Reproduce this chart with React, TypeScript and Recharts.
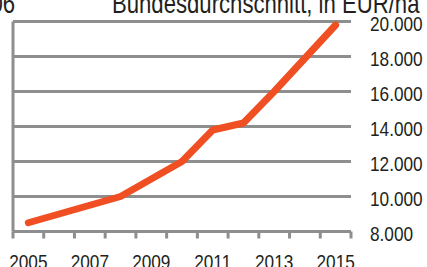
import React from 'react';
import {
  LineChart,
  Line,
  XAxis,
  YAxis,
  CartesianGrid,
  ReferenceLine,
} from 'recharts';

const years = [2005, 2006, 2007, 2008, 2009, 2010, 2011, 2012, 2013, 2014, 2015];
const pricePerHa = [8500, 9000, 9500, 10000, 11000, 12000, 13800, 14200, 16000, 17900, 19800];
const yTicks = [8000, 10000, 12000, 14000, 16000, 18000, 20000];
const labelYears = [2005, 2007, 2009, 2011, 2013, 2015];

const data = years.map((year, i) => ({ year, value: pricePerHa[i] }));
const boundaries = [...years.map((y) => y - 0.5), years[years.length - 1] + 0.5];

const gridColor = '#8e8e8e';
const lineColor = '#f04f23';
const textColor = '#231f20';
const font = "'Liberation Sans', Arial, sans-serif";

const fmt = (v: number) => String(v).replace(/\B(?=(\d{3})+(?!\d))/g, '.');

// narrow text: Liberation Sans squeezed horizontally
const NarrowText = ({ x, y, size, anchor = 'start', children }: any) => (
  <text
    transform={`translate(${x},${y}) scale(0.82,1)`}
    textAnchor={anchor}
    fontFamily={font}
    fontSize={size}
    fill={textColor}
  >
    {children}
  </text>
);

const XTick = (props: any) => {
  const { x, y, payload } = props;
  const v = payload.value;
  if (!Number.isInteger(v)) {
    return <line x1={x} x2={x} y1={y} y2={y + 7} stroke={gridColor} strokeWidth={3} />;
  }
  return (
    <NarrowText x={x} y={y + 37.5} size={21} anchor="middle">
      {v}
    </NarrowText>
  );
};

const YTick = (props: any) => {
  const { x, y, payload } = props;
  return (
    <NarrowText x={x + 19} y={y + 9.5} size={21}>
      {fmt(payload.value)}
    </NarrowText>
  );
};

export default function App() {
  return (
    <div style={{ position: 'absolute', left: 0, top: 0, width: 427, height: 267, background: '#fff' }}>
      <LineChart
        width={427}
        height={267}
        data={data}
        margin={{ top: 21.5, right: 0, bottom: 0, left: 13 }}
      >
        <CartesianGrid vertical={false} stroke={gridColor} strokeWidth={3} />
        <XAxis
          dataKey="year"
          type="number"
          domain={[boundaries[0], boundaries[boundaries.length - 1]]}
          ticks={[...boundaries, ...labelYears]}
          interval={0}
          height={35.5}
          tickSize={0}
          tickMargin={0}
          tickLine={false}
          axisLine={{ stroke: gridColor, strokeWidth: 3 }}
          tick={<XTick />}
        />
        <YAxis
          orientation="right"
          domain={[8000, 20000]}
          ticks={yTicks}
          interval={0}
          width={76}
          tickSize={0}
          tickMargin={0}
          tickLine={false}
          axisLine={false}
          tick={<YTick />}
        />
        <ReferenceLine x={boundaries[0]} stroke={gridColor} strokeWidth={3} />
        <Line
          type="linear"
          dataKey="value"
          stroke={lineColor}
          strokeWidth={7}
          strokeLinecap="round"
          strokeLinejoin="round"
          dot={false}
          isAnimationActive={false}
        />
      </LineChart>
      <svg width={427} height={267} style={{ position: 'absolute', left: 0, top: 0, pointerEvents: 'none' }}>
        <NarrowText x={15} y={12.5} size={27} anchor="end">
          2006
        </NarrowText>
        <NarrowText x={112} y={12.5} size={27}>
          Bundesdurchschnitt, in EUR/ha
        </NarrowText>
      </svg>
    </div>
  );
}
